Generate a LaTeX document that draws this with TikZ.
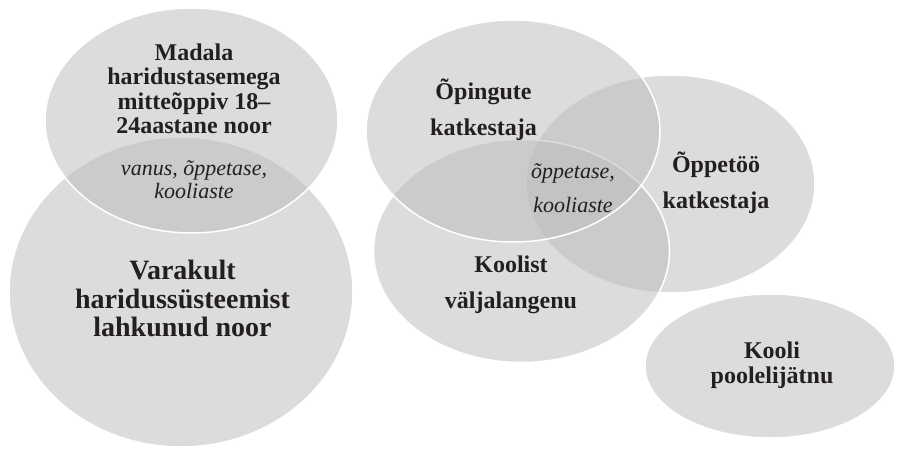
\documentclass[tikz,border=0pt]{standalone}
\usepackage{fontspec}
\setmainfont{Liberation Serif}
\definecolor{blobgray}{RGB}{188,188,192}
\definecolor{txt}{RGB}{35,31,32}
\begin{document}
\begin{tikzpicture}[x=1pt,y=-1pt,
  blob/.style={draw=white, line width=1.5pt, fill=blobgray, fill opacity=0.52},
  lblbase/.style={text=txt, align=center, inner sep=0pt},
  boldA/.style={lblbase, font=\bfseries\fontsize{24}{24.3}\selectfont},
  boldB/.style={lblbase, font=\bfseries\fontsize{28}{28.5}\selectfont},
  boldC/.style={lblbase, font=\bfseries\fontsize{24}{36}\selectfont},
  boldD/.style={lblbase, font=\bfseries\fontsize{24}{25}\selectfont},
  itA/.style={lblbase, font=\itshape\fontsize{22}{23}\selectfont},
  itB/.style={lblbase, font=\itshape\fontsize{22}{34}\selectfont}]
\fill[white] (0,0) rectangle (897,449);
\useasboundingbox (0,0) rectangle (897,449);
% shapes
\draw[blob] (181,292) ellipse [x radius=172pt, y radius=155pt];
\draw[blob] (191.5,120.5) ellipse [x radius=146.5pt, y radius=112.5pt];
\draw[blob] (670.5,184) ellipse [x radius=144.5pt, y radius=109pt];
\draw[blob] (521.5,251) ellipse [x radius=148pt, y radius=111.5pt];
\draw[blob] (513,131) ellipse [x radius=147pt, y radius=111pt];
\draw[blob] (770,366) ellipse [x radius=125pt, y radius=72pt];
% labels
\node[boldA] (madala) at (194,88.9) {Madala\\haridustasemega\\mitteõppiv 18–\\24aastane noor};
\node[itA] (ovk) at (194,179.3) {vanus, õppetase,\\kooliaste};
\node[boldB] (varakult) at (182.5,298.5) {Varakult\\haridussüsteemist\\lahkunud noor};
\node[boldC] (opingute) at (483.5,109.4) {Õpingute\\katkestaja};
\node[boldC] (oppetoo) at (716,182.4) {Õppetöö\\katkestaja};
\node[boldC] (koolist) at (511,284.8) {Koolist\\väljalangenu};
\node[boldD] (kooli) at (772,365.3) {Kooli\\poolelijätnu};
\node[itB] (oppetase) at (573,187.7) {õppetase,\\kooliaste};
\end{tikzpicture}
\end{document}
